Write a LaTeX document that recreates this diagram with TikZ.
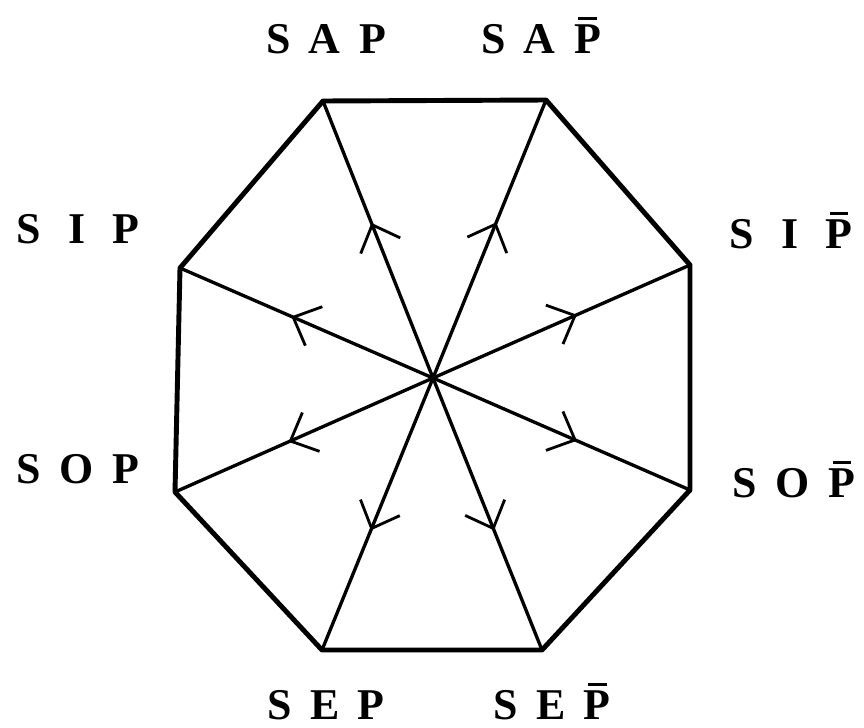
\documentclass[tikz,border=0pt]{standalone}
\usepackage{fontspec}
\setmainfont{Liberation Serif}
\usetikzlibrary{arrows.meta,decorations.markings}
\newcommand\gp{\hspace{0.42em}}
\newcommand\gq{\hspace{0.62em}}
\newcommand\barP{\ooalign{P\cr\hidewidth\raisebox{0.76em}{\rule{0.42em}{0.05em}}\hidewidth\cr}}
\tikzset{
  octo/.style={line width=2.8pt, line join=round},
  spoke/.style={line width=1.9pt, postaction={decorate},
    decoration={markings, mark=at position 0.56 with {\arrow{Straight Barb[length=0.45cm, width=0.85cm, line width=1.6pt]}}}},
  lab/.style={font=\fontsize{25}{29}\selectfont\bfseries, inner sep=0pt, anchor=base}
}
\begin{document}
\begin{tikzpicture}[x=0.02cm, y=-0.02cm]
\useasboundingbox (0,0) rectangle (864,727);
\coordinate (O) at (433,378);
\coordinate (v1) at (323,101);
\coordinate (v2) at (546,100);
\coordinate (v3) at (690,265);
\coordinate (v4) at (690,490);
\coordinate (v5) at (542,650);
\coordinate (v6) at (322,650);
\coordinate (v7) at (175,492);
\coordinate (v8) at (180,268);
\draw[octo] (v1) -- (v2) -- (v3) -- (v4) -- (v5) -- (v6) -- (v7) -- (v8) -- cycle;
\foreach \v in {v1,v2,v3,v4,v5,v6,v7,v8} \draw[spoke] (O) -- (\v);
\node[lab] (sap)  at (326,53)  {S\gp A\gp P};
\node[lab] (sapb) at (541,53)  {S\gp A\gp \barP};
\node[lab] (sip)  at (78,243)  {S\gq I\gq P};
\node[lab] (sipb) at (791,248) {S\gq I\gq \barP};
\node[lab] (sop)  at (78,483)  {S\gp O\gp P};
\node[lab] (sopb) at (794,497) {S\gp O\gp \barP};
\node[lab] (sep)  at (326,719) {S\gp E\gp P};
\node[lab] (sepb) at (552,719) {S\gp E\gp \barP};
\end{tikzpicture}
\end{document}
